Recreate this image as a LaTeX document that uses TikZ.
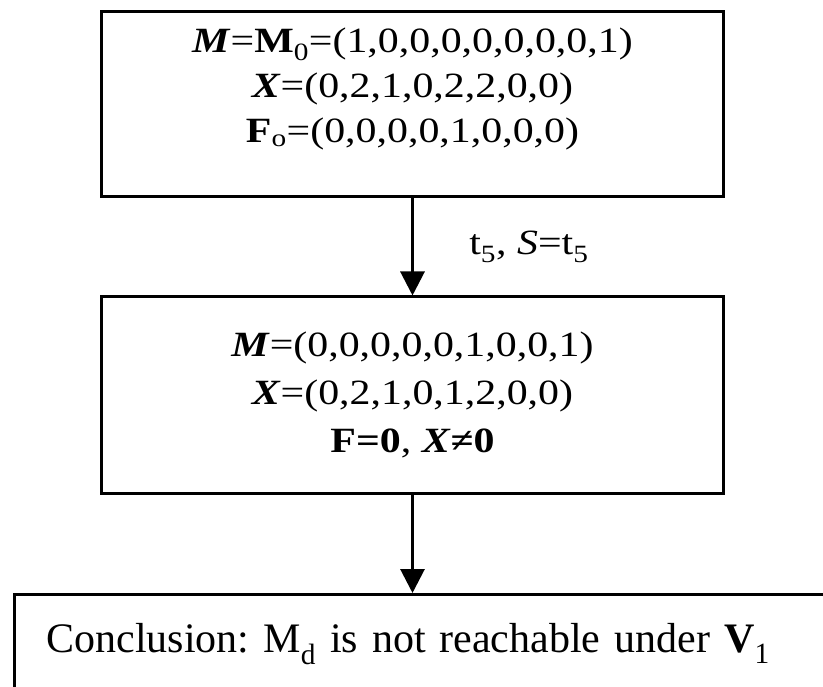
\documentclass[tikz,border=0pt]{standalone}
\usepackage{fontspec}
\setmainfont[FakeStretch=1.18]{Liberation Serif}
\newfontfamily\plainserif{Liberation Serif}
\usetikzlibrary{arrows.meta, positioning}

\newcommand{\bivec}[1]{\textbf{\textit{#1}}}

\begin{document}
\begin{tikzpicture}[x=1pt, y=-1pt,
  statebox/.style={draw, line width=3pt, minimum width=622pt, align=center, inner sep=0pt, font=\fontsize{35.5}{48}\selectfont},
  flow/.style={line width=3pt, -{Triangle[length=24pt, width=24pt]}}]
  \clip (0,0) rectangle (823,687);

  % markings
  \node[statebox, minimum height=185pt, text depth=38pt, font=\fontsize{35.5}{45}\selectfont] (mzero) at (412.5,104.5) {
    \bivec{M}=\textbf{M}\textsubscript{0}=(1,0,0,0,0,0,0,0,1)\\
    \bivec{X}=(0,2,1,0,2,2,0,0)\\
    \textbf{F}\textsubscript{o}=(0,0,0,0,1,0,0,0)
  };
  \node[statebox, minimum height=196pt] (mone) at (412.5,395) {
    \bivec{M}=(0,0,0,0,0,1,0,0,1)\\
    \bivec{X}=(0,2,1,0,1,2,0,0)\\
    \textbf{F=0}, \bivec{X}\textbf{≠0}
  };

  % conclusion
  \node[draw, line width=3pt, anchor=north west, text width=790pt, align=left, inner xsep=32pt, inner ysep=28pt, text height=30pt, text depth=60pt, font=\plainserif\fontsize{42}{50}\selectfont\frenchspacing] (concl) at (13,593)
    {Conclusion: M\textsubscript{d} is not reachable under \textbf{V}\textsubscript{1}};

  \draw[flow] (mzero) -- node[midway, right=52pt, font=\fontsize{35.5}{47}\selectfont] {t\textsubscript{5}, \textit{S}=t\textsubscript{5}} (mone);
  \draw[flow] (mone.south) -- (mone.south |- concl.north);
\end{tikzpicture}
\end{document}
